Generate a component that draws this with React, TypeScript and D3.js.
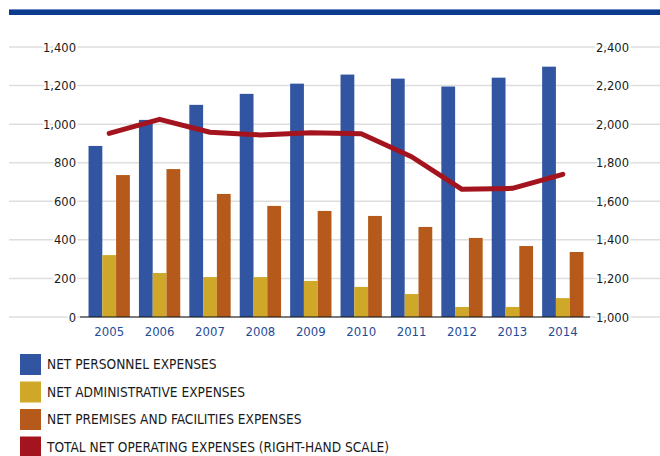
import * as d3 from 'd3';
import React from 'react';

const years = ['2005', '2006', '2007', '2008', '2009', '2010', '2011', '2012', '2013', '2014'];
const personnel = [887, 1022, 1100, 1157, 1210, 1257, 1236, 1195, 1241, 1298];
const administrative = [321, 228, 207, 207, 187, 156, 119, 52, 52, 98];
const premises = [736, 767, 638, 576, 550, 524, 467, 410, 368, 337];
const totalOperating = [1952, 2025, 1958, 1944, 1956, 1950, 1831, 1662, 1667, 1740];

const leftTicks = [0, 200, 400, 600, 800, 1000, 1200, 1400];
const rightTicks = [1000, 1200, 1400, 1600, 1800, 2000, 2200, 2400];

const seriesNames = [
  'NET PERSONNEL EXPENSES',
  'NET ADMINISTRATIVE EXPENSES',
  'NET PREMISES AND FACILITIES EXPENSES',
  'TOTAL NET OPERATING EXPENSES (RIGHT-HAND SCALE)',
];
const colors = ['#3155a0', '#cfa82a', '#b55a1a', '#a3141f'];

const font = '"DejaVu Sans Condensed", "Liberation Sans", sans-serif';

const App = () => {
  const width = 660, height = 456;
  const top = 47, bottom = 317;

  const x = d3.scaleBand().domain(years).range([84, 588]).paddingInner(0.18).paddingOuter(0.09);
  const sub = d3.scaleBand().domain(['p', 'a', 'f']).range([0, x.bandwidth()]);
  const yL = d3.scaleLinear().domain([0, 1400]).range([bottom, top]);
  const yR = d3.scaleLinear().domain([1000, 2400]).range([bottom, top]);

  const bars = [personnel, administrative, premises];
  const keys = ['p', 'a', 'f'];

  const line = d3.line<number>()
    .x((d, i) => x(years[i])! + x.bandwidth() / 2)
    .y(d => yR(d));

  return (
    <svg width={width} height={height} style={{ position: 'absolute', left: 0, top: 0, fontFamily: font }}>
      <rect x={0} y={0} width={width} height={height} fill="#fff" />
      {/* top rule */}
      <rect x={9} y={9} width={651} height={6} fill="#0b3b8c" />
      <rect x={9} y={9} width={651} height={1} fill="#6f8cc0" />

      {/* gridlines */}
      {leftTicks.map(t => (
        <line key={'g' + t} x1={9} x2={660} y1={yL(t)} y2={yL(t)} stroke="#dedede" strokeWidth={1.5} />
      ))}

      {/* left labels */}
      {leftTicks.map(t => (
        <text key={'l' + t} x={76} y={yL(t) + 4.5} textAnchor="end" fontSize={12.8} fill="#1a1a1a"
          stroke="#fff" strokeWidth={4} paintOrder="stroke">{d3.format(',')(t)}</text>
      ))}
      {/* right labels */}
      {rightTicks.map(t => (
        <text key={'r' + t} x={596} y={yR(t) + 4.5} textAnchor="start" fontSize={12.8} fill="#1a1a1a"
          stroke="#fff" strokeWidth={4} paintOrder="stroke">{d3.format(',')(t)}</text>
      ))}

      {/* bars */}
      {bars.map((vals, s) => vals.map((v, i) => (
        <rect key={s + '-' + i} x={x(years[i])! + sub(keys[s])!} y={yL(v)} width={sub.bandwidth()}
          height={yL(0) - yL(v)} fill={colors[s]} />
      )))}

      {/* baseline */}
      <line x1={80} x2={590} y1={yL(0)} y2={yL(0)} stroke="#111" strokeWidth={1.2} />

      {/* total line */}
      <path d={line(totalOperating)!} fill="none" stroke={colors[3]} strokeWidth={5} strokeLinejoin="round" strokeLinecap="round" />

      {/* year labels */}
      {years.map(yr => (
        <text key={'y' + yr} x={x(yr)! + x.bandwidth() / 2} y={336} textAnchor="middle" fontSize={13} fill="#1f4c98">{yr}</text>
      ))}

      {/* legend */}
      {seriesNames.map((n, i) => (
        <g key={n} transform={`translate(20,${354 + i * 27.5})`}>
          <rect x={0} y={0} width={21} height={21} fill={colors[i]} />
          <text x={27} y={15} fontSize={13.6} fill="#1a1a1a">{n}</text>
        </g>
      ))}
    </svg>
  );
};

export default App;
